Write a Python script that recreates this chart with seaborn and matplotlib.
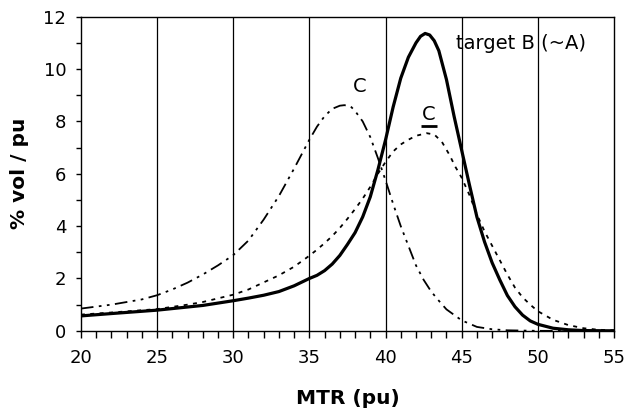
import numpy as np
import pandas as pd
import matplotlib
matplotlib.use("Agg")
import matplotlib.pyplot as plt
import seaborn as sns

# Volume fraction distributions over MTR (pu)
x_target = [20, 22, 25, 28, 30, 31, 32, 33, 34, 35, 35.5, 36, 36.5, 37, 37.5, 38, 38.5, 39,
            39.5, 40, 40.5, 41, 41.5, 42, 42.3, 42.6, 42.9, 43.2, 43.5, 44, 44.5, 45, 45.5,
            46, 46.5, 47, 47.5, 48, 48.5, 49, 49.5, 50, 51, 52, 53, 55]
y_target = [0.57, 0.66, 0.79, 0.97, 1.15, 1.25, 1.36, 1.5, 1.72, 2.0, 2.12, 2.3, 2.55, 2.88,
            3.3, 3.75, 4.35, 5.12, 6.15, 7.29, 8.55, 9.65, 10.45, 11.0, 11.25, 11.36, 11.3,
            11.08, 10.7, 9.6, 8.2, 6.9, 5.6, 4.35, 3.4, 2.6, 1.95, 1.35, 0.92, 0.6, 0.38,
            0.25, 0.1, 0.04, 0.01, 0.0]

x_c = [20, 22, 24, 25, 26, 27, 28, 29, 30, 31, 32, 33, 34, 35, 35.5, 36, 36.5, 37, 37.3,
       37.7, 38, 38.5, 39, 39.5, 40, 40.5, 41, 41.5, 42, 42.5, 43, 43.5, 44, 45, 46, 47, 48,
       50, 55]
y_c = [0.85, 1.0, 1.2, 1.36, 1.58, 1.84, 2.15, 2.5, 2.89, 3.45, 4.25, 5.15, 6.2, 7.3, 7.8,
       8.2, 8.48, 8.6, 8.62, 8.58, 8.4, 8.0, 7.4, 6.6, 5.75, 4.85, 4.0, 3.25, 2.5, 1.95,
       1.5, 1.15, 0.82, 0.4, 0.15, 0.06, 0.02, 0.0, 0.0]

x_cbar = [20, 22, 25, 27, 28, 30, 31, 32, 33, 34, 35, 35.5, 36, 36.5, 37, 37.5, 38, 38.5,
          39, 39.5, 40, 40.5, 41, 41.5, 42, 42.7, 43.2, 43.7, 44.2, 44.6, 45, 45.5, 46,
          46.5, 47, 47.5, 48, 48.5, 49, 49.5, 50, 51, 52, 53, 54, 55]
y_cbar = [0.62, 0.7, 0.83, 1.0, 1.1, 1.38, 1.58, 1.85, 2.12, 2.45, 2.87, 3.1, 3.35, 3.62,
          3.93, 4.28, 4.65, 5.05, 5.5, 6.0, 6.45, 6.85, 7.12, 7.3, 7.45, 7.55, 7.5, 7.22,
          6.72, 6.25, 5.85, 5.2, 4.45, 3.8, 3.25, 2.7, 2.15, 1.65, 1.28, 1.0, 0.75, 0.42,
          0.22, 0.1, 0.04, 0.02]

xticks = [20, 25, 30, 35, 40, 45, 50, 55]
yticks = [0, 2, 4, 6, 8, 10, 12]

sns.set_theme(style="ticks")
plt.rcParams["font.family"] = ["DejaVu Sans"]

fig = plt.figure(figsize=(6.32, 4.12), dpi=100)
ax = fig.add_axes([0.128, 0.197, 0.8435, 0.7625])

# vertical grid lines at the inner major x ticks
for xv in xticks[1:-1]:
    ax.axvline(xv, color="black", lw=0.9, zorder=1)

df_t = pd.DataFrame({"MTR": x_target, "vol": y_target})
df_c = pd.DataFrame({"MTR": x_c, "vol": y_c})
df_cb = pd.DataFrame({"MTR": x_cbar, "vol": y_cbar})

sns.lineplot(data=df_c, x="MTR", y="vol", ax=ax, color="black", lw=1.3,
             sort=False, zorder=3)
ax.lines[-1].set_dashes([7, 3, 1.5, 3, 1.5, 3])
sns.lineplot(data=df_cb, x="MTR", y="vol", ax=ax, color="black", lw=1.3,
             sort=False, zorder=3)
ax.lines[-1].set_dashes([2.2, 3.0])
sns.lineplot(data=df_t, x="MTR", y="vol", ax=ax, color="black", lw=2.3,
             sort=False, zorder=4)

# curve labels
lab_fs = 14
ax.text(38.3, 9.33, "C", fontsize=lab_fs, ha="center", va="center", color="black")
cx, cy = 42.86, 8.26
ax.text(cx, cy, "C", fontsize=lab_fs, ha="center", va="center", color="black")
ax.plot([cx - 0.5, cx + 0.5], [cy - 0.45, cy - 0.45], color="black", lw=2.0,
        solid_capstyle="butt")
ax.text(44.6, 10.98, "target B (~A)", fontsize=lab_fs, ha="left", va="center",
        color="black", zorder=5)

ax.set_xlim(20, 55)
ax.set_ylim(0, 12)
ax.set_xticks(xticks)
ax.set_yticks(yticks)
ax.set_xticks(np.arange(20, 56, 1), minor=True)
ax.set_yticks(np.arange(1, 12, 2), minor=True)
ax.tick_params(axis="both", which="both", direction="out", width=1,
               color="black", labelsize=13, labelcolor="black")
ax.tick_params(axis="x", which="both", top=False, length=5, pad=8)
ax.tick_params(axis="y", which="both", right=False, length=3.6, pad=7)

for s in ax.spines.values():
    s.set_color("black")
    s.set_linewidth(1.0)
    s.set_visible(True)

ax.set_xlabel("MTR (pu)", fontsize=14.5, fontweight="bold", labelpad=16, color="black")
ax.set_ylabel("% vol / pu", fontsize=14.5, fontweight="bold", labelpad=10, color="black")

fig.savefig("out.png", dpi=100, facecolor="white")
